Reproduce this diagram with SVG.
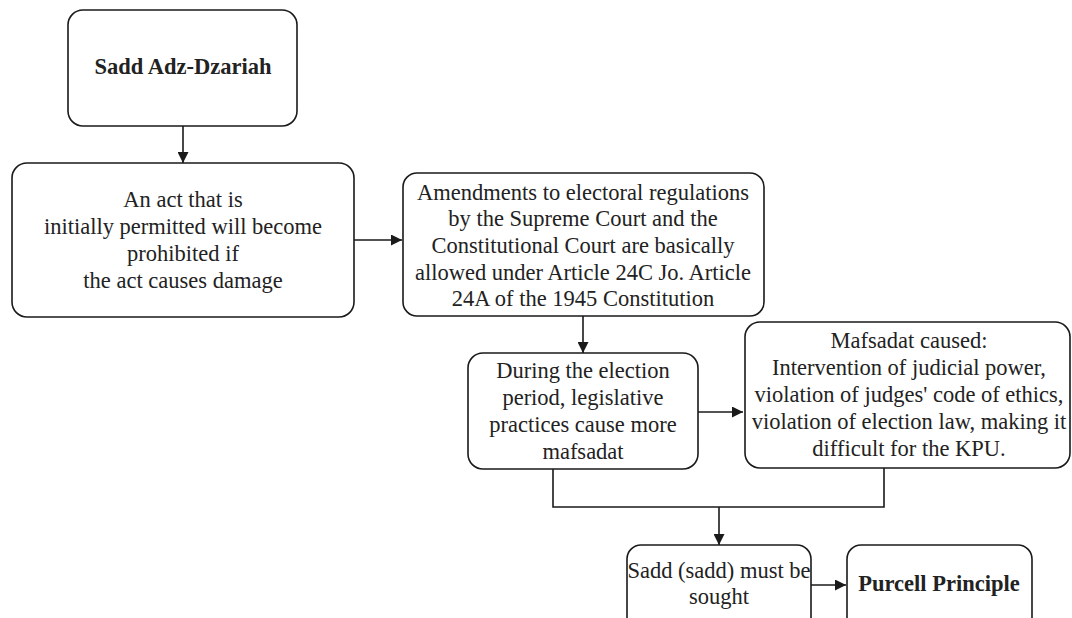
<svg xmlns="http://www.w3.org/2000/svg" width="1072" height="618" viewBox="0 0 1072 618">
  <style>
    .box { fill: #ffffff; stroke: #1a1a1a; stroke-width: 1.6; }
    .lbl { font-size: 22.5px; fill: #222222; text-anchor: middle; }
    .bold { font-weight: bold; }
    .edge { fill: none; stroke: #1a1a1a; stroke-width: 1.6; }
  </style>
  <defs>
    <marker id="arrow" viewBox="0 0 10 10" refX="10" refY="5" markerWidth="11" markerHeight="11" markerUnits="userSpaceOnUse" orient="auto">
      <path d="M0,0 L10,5 L0,10 Z" fill="#1a1a1a"/>
    </marker>
  </defs>
  <rect width="1072" height="618" fill="#ffffff"/>

  <g id="connectors">
    <line class="edge" x1="183" y1="126" x2="183" y2="163" marker-end="url(#arrow)"/>
    <line class="edge" x1="354" y1="240" x2="402" y2="240" marker-end="url(#arrow)"/>
    <line class="edge" x1="583" y1="316" x2="583" y2="353" marker-end="url(#arrow)"/>
    <line class="edge" x1="698" y1="412" x2="743" y2="412" marker-end="url(#arrow)"/>
    <polyline class="edge" points="553,469 553,507 884,507 884,468"/>
    <line class="edge" x1="719" y1="507" x2="719" y2="545" marker-end="url(#arrow)"/>
    <line class="edge" x1="811" y1="585" x2="846" y2="585" marker-end="url(#arrow)"/>
  </g>

  <g font-family="Liberation Serif, Tinos, Times New Roman, DejaVu Serif, serif">
    <g id="sadd-adz-dzariah">
      <rect class="box" x="68" y="10" width="229" height="116" rx="15"/>
      <text class="lbl bold" x="183" y="74">Sadd Adz-Dzariah</text>
    </g>

    <g id="initially-permitted">
      <rect class="box" x="12" y="163" width="342" height="154" rx="15"/>
      <text class="lbl" x="183" y="207">An act that is</text>
      <text class="lbl" x="183" y="234">initially permitted will become</text>
      <text class="lbl" x="183" y="261">prohibited if</text>
      <text class="lbl" x="183" y="288">the act causes damage</text>
    </g>

    <g id="amendments">
      <rect class="box" x="403" y="173" width="361" height="143" rx="14"/>
      <text class="lbl" x="583" y="200">Amendments to electoral regulations</text>
      <text class="lbl" x="583" y="226">by the Supreme Court and the</text>
      <text class="lbl" x="583" y="253">Constitutional Court are basically</text>
      <text class="lbl" x="583" y="280">allowed under Article 24C Jo. Article</text>
      <text class="lbl" x="583" y="306">24A of the 1945 Constitution</text>
    </g>

    <g id="election-period">
      <rect class="box" x="468" y="353" width="230" height="116" rx="15"/>
      <text class="lbl" x="583" y="378">During the election</text>
      <text class="lbl" x="583" y="405">period, legislative</text>
      <text class="lbl" x="583" y="432">practices cause more</text>
      <text class="lbl" x="583" y="459">mafsadat</text>
    </g>

    <g id="mafsadat-caused">
      <rect class="box" x="745" y="322" width="325" height="146" rx="15"/>
      <text class="lbl" x="909" y="348">Mafsadat caused:</text>
      <text class="lbl" x="909" y="375">Intervention of judicial power,</text>
      <text class="lbl" x="909" y="402">violation of judges' code of ethics,</text>
      <text class="lbl" x="909" y="429">violation of election law, making it</text>
      <text class="lbl" x="909" y="456">difficult for the KPU.</text>
    </g>

    <g id="sadd-sought">
      <rect class="box" x="627" y="545" width="184" height="100" rx="14"/>
      <text class="lbl" x="719" y="578">Sadd (sadd) must be</text>
      <text class="lbl" x="719" y="604">sought</text>
    </g>

    <g id="purcell-principle">
      <rect class="box" x="847" y="545" width="185" height="100" rx="14"/>
      <text class="lbl bold" x="939" y="591">Purcell Principle</text>
    </g>
  </g>
</svg>
